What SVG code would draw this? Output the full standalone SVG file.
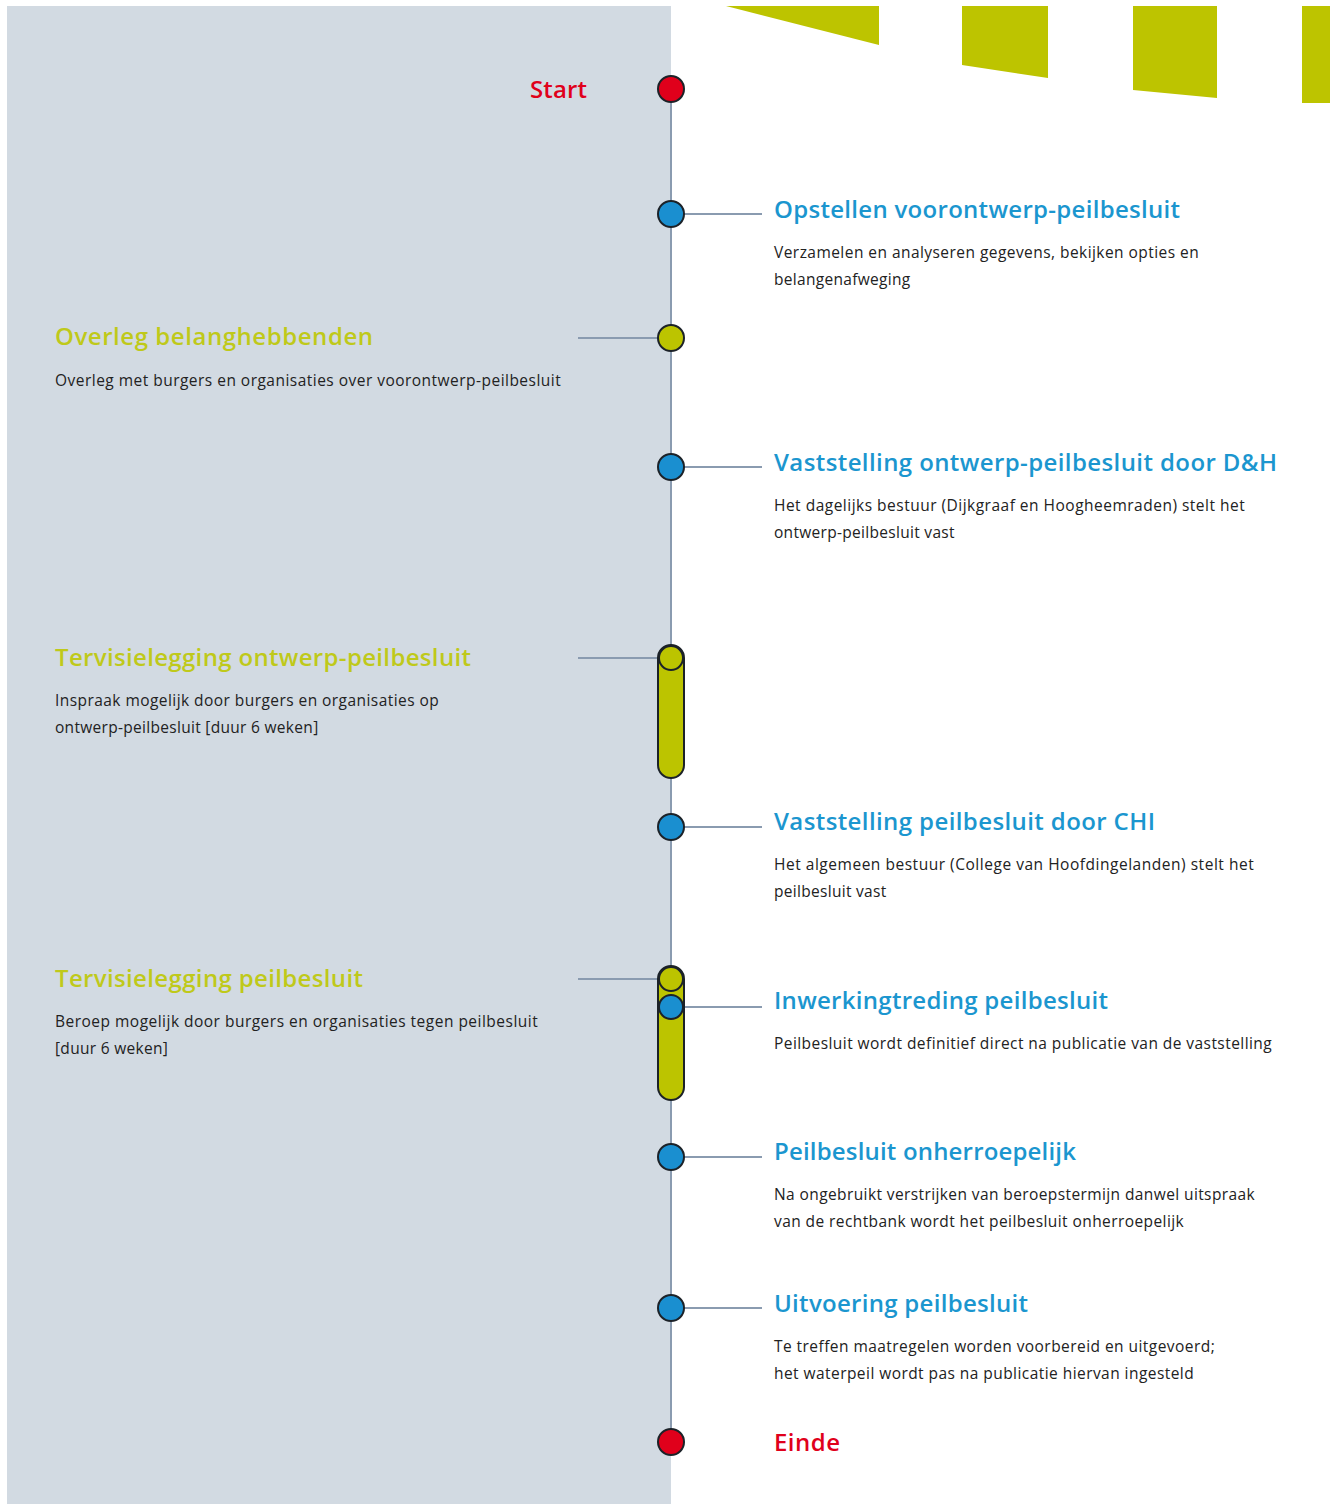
<svg xmlns="http://www.w3.org/2000/svg" width="1330" height="1504" viewBox="0 0 1330 1504">
  <style>
    .title { font-family: "Open Sans", "Noto Sans", sans-serif; font-size: 24px; font-weight: 600; }
    .blue { fill: #1b96cf; }
    .green { fill: #bfc91a; }
    .red { fill: #e0001b; }
    .body { font-family: "Open Sans", "Noto Sans", sans-serif; font-size: 15.5px; font-weight: 500; fill: #222; letter-spacing: 0.3px; }
    .dot { stroke: #1c2228; stroke-width: 2; }
    .d-blue { fill: #1a8fd0; }
    .d-green { fill: #bcc400; }
    .d-red { fill: #e0001b; }
    .conn { stroke: #8a9bb0; stroke-width: 2; fill: none; }
  </style>

  <!-- background -->
  <rect x="0" y="0" width="1330" height="1504" fill="#ffffff"/>
  <rect x="7" y="6" width="664" height="1498" fill="#d2dae2"/>

  <!-- decorative banner strips -->
  <g fill="#bdc400">
    <polygon points="726,6 879,6 879,45"/>
    <polygon points="962,6 1048,6 1048,78 962,65"/>
    <polygon points="1133,6 1217,6 1217,98 1133,90"/>
    <polygon points="1302,6 1330,6 1330,103 1302,103"/>
  </g>

  <!-- timeline and connectors -->
  <g id="connectors">
    <line class="conn" x1="671" y1="89" x2="671" y2="1442"/>
    <line class="conn" x1="671" y1="214" x2="762" y2="214"/>
    <line class="conn" x1="578" y1="338" x2="671" y2="338"/>
    <line class="conn" x1="671" y1="467" x2="762" y2="467"/>
    <line class="conn" x1="578" y1="658" x2="671" y2="658"/>
    <line class="conn" x1="671" y1="827" x2="762" y2="827"/>
    <line class="conn" x1="578" y1="979" x2="671" y2="979"/>
    <line class="conn" x1="671" y1="1007" x2="762" y2="1007"/>
    <line class="conn" x1="671" y1="1157" x2="762" y2="1157"/>
    <line class="conn" x1="671" y1="1308" x2="762" y2="1308"/>
  </g>

  <g id="start">
    <circle class="dot d-red" cx="671" cy="89" r="13"/>
    <text class="title red" x="587" y="98" text-anchor="end" font-size="26" textLength="57" lengthAdjust="spacing">Start</text>
  </g>

  <g id="opstellen">
    <circle class="dot d-blue" cx="671" cy="214" r="13"/>
    <text class="title blue" x="774" y="218" textLength="406" lengthAdjust="spacing">Opstellen voorontwerp-peilbesluit</text>
    <text class="body" x="774" y="258" textLength="425" lengthAdjust="spacing">Verzamelen en analyseren gegevens, bekijken opties en</text>
    <text class="body" x="774" y="285">belangenafweging</text>
  </g>

  <g id="overleg">
    <circle class="dot d-green" cx="671" cy="338" r="13"/>
    <text class="title green" x="55" y="345" textLength="318" lengthAdjust="spacing">Overleg belanghebbenden</text>
    <text class="body" x="55" y="386" textLength="506" lengthAdjust="spacing">Overleg met burgers en organisaties over voorontwerp-peilbesluit</text>
  </g>

  <g id="ontwerp-dh">
    <circle class="dot d-blue" cx="671" cy="467" r="13"/>
    <text class="title blue" x="774" y="471" textLength="503" lengthAdjust="spacing">Vaststelling ontwerp-peilbesluit door D&amp;H</text>
    <text class="body" x="774" y="511" textLength="471" lengthAdjust="spacing">Het dagelijks bestuur (Dijkgraaf en Hoogheemraden) stelt het</text>
    <text class="body" x="774" y="538">ontwerp-peilbesluit vast</text>
  </g>

  <g id="tervisie-ontwerp">
    <rect class="dot d-green" x="658" y="645" width="26" height="133" rx="13"/>
    <circle class="dot d-green" cx="671" cy="658" r="12"/>
    <text class="title green" x="55" y="666" textLength="416" lengthAdjust="spacing">Tervisielegging ontwerp-peilbesluit</text>
    <text class="body" x="55" y="706" textLength="384" lengthAdjust="spacing">Inspraak mogelijk door burgers en organisaties op</text>
    <text class="body" x="55" y="733">ontwerp-peilbesluit [duur 6 weken]</text>
  </g>

  <g id="vaststelling-chi">
    <circle class="dot d-blue" cx="671" cy="827" r="13"/>
    <text class="title blue" x="774" y="830" textLength="381" lengthAdjust="spacing">Vaststelling peilbesluit door CHI</text>
    <text class="body" x="774" y="870" textLength="480" lengthAdjust="spacing">Het algemeen bestuur (College van Hoofdingelanden) stelt het</text>
    <text class="body" x="774" y="897">peilbesluit vast</text>
  </g>

  <g id="tervisie-peilbesluit">
    <rect class="dot d-green" x="658" y="966" width="26" height="134" rx="13"/>
    <circle class="dot d-green" cx="671" cy="979" r="12"/>
    <text class="title green" x="55" y="987" textLength="308" lengthAdjust="spacing">Tervisielegging peilbesluit</text>
    <text class="body" x="55" y="1027" textLength="483" lengthAdjust="spacing">Beroep mogelijk door burgers en organisaties tegen peilbesluit</text>
    <text class="body" x="55" y="1054">[duur 6 weken]</text>
  </g>

  <g id="inwerkingtreding">
    <circle class="dot d-blue" cx="671" cy="1007" r="12"/>
    <text class="title blue" x="774" y="1009" textLength="334" lengthAdjust="spacing">Inwerkingtreding peilbesluit</text>
    <text class="body" x="774" y="1049" textLength="498" lengthAdjust="spacing">Peilbesluit wordt definitief direct na publicatie van de vaststelling</text>
  </g>

  <g id="onherroepelijk">
    <circle class="dot d-blue" cx="671" cy="1157" r="13"/>
    <text class="title blue" x="774" y="1160" textLength="302" lengthAdjust="spacing">Peilbesluit onherroepelijk</text>
    <text class="body" x="774" y="1200" textLength="481" lengthAdjust="spacing">Na ongebruikt verstrijken van beroepstermijn danwel uitspraak</text>
    <text class="body" x="774" y="1227" textLength="410" lengthAdjust="spacing">van de rechtbank wordt het peilbesluit onherroepelijk</text>
  </g>

  <g id="uitvoering">
    <circle class="dot d-blue" cx="671" cy="1308" r="13"/>
    <text class="title blue" x="774" y="1312" textLength="254" lengthAdjust="spacing">Uitvoering peilbesluit</text>
    <text class="body" x="774" y="1352" textLength="441" lengthAdjust="spacing">Te treffen maatregelen worden voorbereid en uitgevoerd;</text>
    <text class="body" x="774" y="1379" textLength="420" lengthAdjust="spacing">het waterpeil wordt pas na publicatie hiervan ingesteld</text>
  </g>

  <g id="einde">
    <circle class="dot d-red" cx="671" cy="1442" r="13"/>
    <text class="title red" x="774" y="1451" font-size="26" textLength="66" lengthAdjust="spacing">Einde</text>
  </g>
</svg>
